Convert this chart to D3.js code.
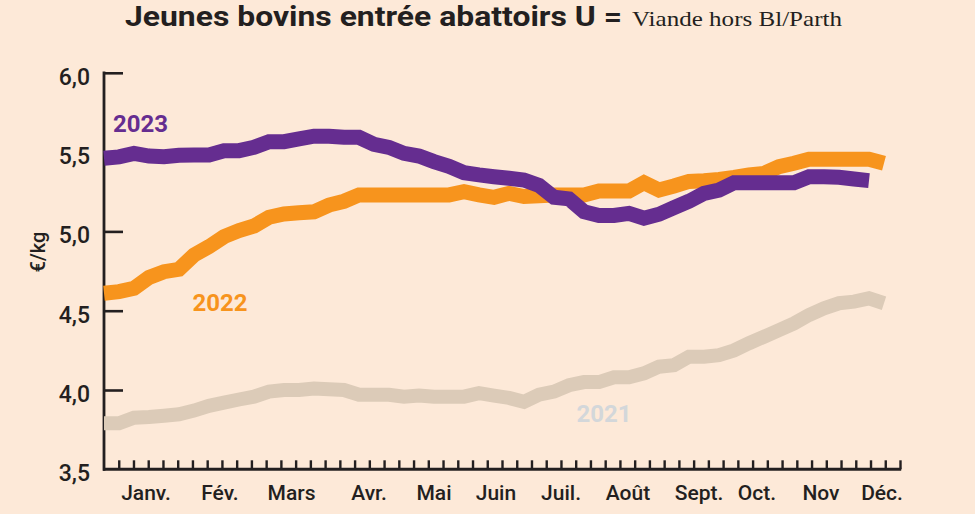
<!DOCTYPE html>
<html>
<head>
<meta charset="utf-8">
<script src="https://cdn.jsdelivr.net/npm/d3@7"></script>
<style>
  html, body { margin: 0; padding: 0; background: #fde9d8; }
  svg { display: block; }
</style>
</head>
<body>
<svg id="chart" width="975" height="514"></svg>
<script>
// ---- data (weekly €/kg) ----
const v2021 = [3.79,3.79,3.825,3.83,3.838,3.847,3.87,3.90,3.92,3.94,3.958,3.99,4.0,4.0,4.01,4.005,4.0,3.97,3.97,3.97,3.958,3.965,3.958,3.958,3.958,3.98,3.965,3.95,3.926,3.97,3.99,4.03,4.05,4.05,4.08,4.08,4.105,4.147,4.157,4.21,4.21,4.22,4.25,4.295,4.336,4.378,4.42,4.473,4.515,4.547,4.557,4.578,4.547];
const v2022 = [4.61,4.62,4.641,4.71,4.746,4.761,4.851,4.904,4.967,5.005,5.034,5.089,5.11,5.118,5.124,5.166,5.19,5.23,5.23,5.23,5.23,5.23,5.23,5.23,5.25,5.23,5.215,5.24,5.22,5.225,5.23,5.23,5.23,5.255,5.255,5.255,5.307,5.261,5.286,5.315,5.32,5.328,5.34,5.356,5.366,5.408,5.43,5.455,5.455,5.455,5.455,5.455,5.43];
const v2023 = [5.461,5.47,5.492,5.475,5.471,5.48,5.482,5.482,5.509,5.509,5.53,5.566,5.566,5.583,5.60,5.60,5.593,5.593,5.549,5.53,5.492,5.475,5.44,5.41,5.37,5.356,5.345,5.335,5.324,5.29,5.215,5.205,5.124,5.10,5.10,5.114,5.083,5.108,5.15,5.19,5.24,5.261,5.307,5.307,5.307,5.307,5.307,5.345,5.345,5.341,5.33,5.32];
const months = ["Janv.","Fév.","Mars","Avr.","Mai","Juin","Juil.","Août","Sept.","Oct.","Nov","Déc."];
const monthWeek = [2.8,7.73,12.5,17.67,22.0,26.13,30.47,34.93,39.67,43.53,47.8,51.87];
const yTicks = [3.5,4.0,4.5,5.0,5.5,6.0];
const seriesNames = ["2021","2022","2023"];
const seriesLabelWeek = [31.5, 5.9, 0.6];
const seriesLabelValue = [3.80, 4.50, 5.627];
const titleBold = "Jeunes bovins entrée abattoirs U =";
const titleLight = "Viande hors Bl/Parth";
const yAxisTitle = "€/kg";

// ---- layout ----
const svg = d3.select("#chart");
const dark = "#231f20";
const colors = ["#dccbb8", "#f7941d", "#652d90"];
const labelColors = ["#d3d7da", "#f7941d", "#652d90"];

const y = d3.scaleLinear().domain([3.5, 6.0]).range([469.3, 72.8]);
const x = d3.scaleLinear().domain([0, 52]).range([104, 884]);
const xTick = d3.scaleLinear().domain([0, 54]).range([104, 900]);

// title
svg.append("text")
  .attr("x", 125).attr("y", 26)
  .attr("font-family", "Roboto, 'DejaVu Sans Condensed', sans-serif")
  .attr("font-weight", 700).attr("font-size", 27)
  .attr("textLength", 497).attr("lengthAdjust", "spacingAndGlyphs")
  .attr("fill", dark).text(titleBold);
svg.append("text")
  .attr("x", 632).attr("y", 26)
  .attr("font-family", "'Liberation Serif', 'DejaVu Serif', serif")
  .attr("font-size", 21)
  .attr("textLength", 210).attr("lengthAdjust", "spacingAndGlyphs")
  .attr("fill", dark).text(titleLight);

// y axis
const yAxis = d3.axisRight(y).tickValues(yTicks.slice(1)).tickSize(19).tickFormat("");
const gy = svg.append("g").attr("transform", "translate(104,0)").call(yAxis);
gy.select(".domain").remove();
gy.selectAll(".tick line").attr("stroke", dark).attr("stroke-width", 2.6);
svg.append("line").attr("x1", 104).attr("x2", 104)
  .attr("y1", y(6.0) - 1.3).attr("y2", y(3.5) + 1.5)
  .attr("stroke", dark).attr("stroke-width", 2.8);

svg.append("g").selectAll("text").data(yTicks).join("text")
  .attr("x", 90).attr("y", d => y(d) + 12)
  .attr("text-anchor", "end")
  .attr("font-family", "Roboto, sans-serif").attr("font-size", 23)
  .attr("font-weight", 500)
  .attr("fill", dark)
  .text(d => d3.format(".1f")(d).replace(".", ","));

svg.append("text")
  .attr("transform", `translate(45,${y(4.87)}) rotate(-90)`)
  .attr("text-anchor", "middle")
  .attr("font-family", "Roboto, sans-serif").attr("font-size", 20)
  .attr("font-weight", 500)
  .attr("fill", dark).text(yAxisTitle);

// x axis
const xAxis = d3.axisTop(xTick).tickValues(d3.range(1, 55)).tickSize(9).tickFormat("");
const gx = svg.append("g").attr("transform", `translate(0,${y(3.5)})`).call(xAxis);
gx.select(".domain").remove();
gx.selectAll(".tick line").attr("stroke", dark).attr("stroke-width", 2.4);
svg.append("line").attr("x1", 103).attr("x2", xTick(54) + 1.2)
  .attr("y1", y(3.5)).attr("y2", y(3.5))
  .attr("stroke", dark).attr("stroke-width", 3);

svg.append("g").selectAll("text").data(months).join("text")
  .attr("x", (d, i) => x(monthWeek[i])).attr("y", 500)
  .attr("text-anchor", "middle")
  .attr("font-family", "Roboto, sans-serif").attr("font-size", 21)
  .attr("font-weight", 500)
  .attr("fill", dark).text(d => d);

// lines
const line = d3.line().x((d, i) => x(i)).y(d => y(d));
const allSeries = [v2021, v2022, v2023];
const widths = [14, 15, 15];
svg.append("g").selectAll("path").data(allSeries).join("path")
  .attr("d", d => line(d))
  .attr("fill", "none")
  .attr("stroke", (d, i) => colors[i])
  .attr("stroke-width", (d, i) => widths[i])
  .attr("stroke-linejoin", "miter")
  .attr("stroke-linecap", "butt");

// series labels
svg.append("g").selectAll("text").data(seriesNames).join("text")
  .attr("x", (d, i) => x(seriesLabelWeek[i]))
  .attr("y", (d, i) => y(seriesLabelValue[i]))
  .attr("font-family", "Roboto, sans-serif").attr("font-weight", 700)
  .attr("font-size", 24)
  .attr("fill", (d, i) => labelColors[i])
  .text(d => d);
</script>
</body>
</html>
